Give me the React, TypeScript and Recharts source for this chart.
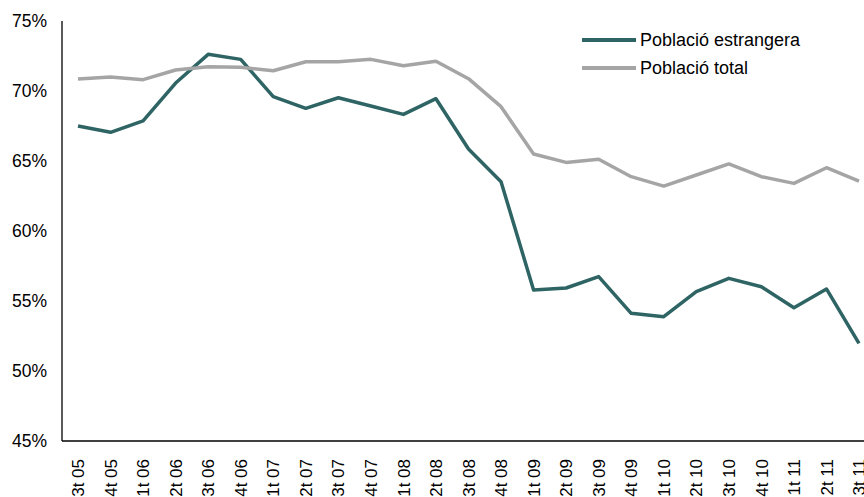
import { CartesianGrid, Legend, Line, LineChart, XAxis, YAxis } from "recharts";

const quarters = [
  "3t 05", "4t 05", "1t 06", "2t 06", "3t 06", "4t 06", "1t 07", "2t 07", "3t 07", "4t 07",
  "1t 08", "2t 08", "3t 08", "4t 08", "1t 09", "2t 09", "3t 09", "4t 09", "1t 10", "2t 10",
  "3t 10", "4t 10", "1t 11", "2t 11", "3t 11",
];
const foreignPop = [
  67.5, 67.05, 67.86, 70.57, 72.62, 72.26, 69.6, 68.76, 69.52, 68.93,
  68.33, 69.45, 65.86, 63.52, 55.79, 55.93, 56.74, 54.12, 53.88, 55.67,
  56.62, 56.02, 54.52, 55.86, 51.98,
];
const totalPop = [
  70.86, 71.0, 70.81, 71.5, 71.74, 71.69, 71.45, 72.09, 72.09, 72.26,
  71.81, 72.12, 70.88, 68.88, 65.5, 64.9, 65.12, 63.88, 63.21, 64.0,
  64.79, 63.88, 63.4, 64.52, 63.57,
];
const yTicks = [45, 50, 55, 60, 65, 70, 75];

const TEAL = "#2F6464";
const GREY = "#A5A5A5";
const FONT = "'Liberation Sans', Arial, sans-serif";

const data = quarters.map((q, i) => ({ q, foreign: foreignPop[i], total: totalPop[i] }));

function QuarterTick({ x, y, payload }: any) {
  return (
    <text x={0} y={0} dy="0.36em" textAnchor="end" transform={`translate(${x},${y + 10}) rotate(-90)`}
      fill="#000" fontSize={17} fontFamily={FONT}>
      {payload.value}
    </text>
  );
}

function LegendBox({ payload }: any) {
  return (
    <div style={{ fontFamily: FONT, fontSize: 18, color: "#000" }}>
      {(payload || []).map((p: any) => (
        <div key={p.value} style={{ display: "flex", alignItems: "center", height: 28 }}>
          <span style={{ display: "inline-block", width: 54, height: 3.5, background: p.color, marginRight: 4 }} />
          <span>{p.value}</span>
        </div>
      ))}
    </div>
  );
}

export default function App() {
  return (
    <div style={{ position: "fixed", left: 0, top: 0, width: 864, height: 497, overflow: "hidden", background: "#fff" }}>
      <LineChart width={876} height={497} data={data} margin={{ top: 21, right: 1, left: 0, bottom: 0 }}>
        <CartesianGrid stroke="none" />
        <XAxis dataKey="q" interval={0} tickLine={false} axisLine={{ stroke: "#000", strokeWidth: 1.3 }}
          height={56} padding={{ left: 16, right: 16 }} tick={<QuarterTick />} />
        <YAxis domain={[45, 75]} ticks={yTicks} interval={0} width={62} tickLine={false}
          axisLine={{ stroke: "#000", strokeWidth: 1.3 }} tickMargin={9}
          tickFormatter={(v: number) => `${v}%`} tick={{ fill: "#000", fontSize: 17.5, fontFamily: FONT }} />
        <Legend layout="vertical" verticalAlign="middle" align="center" content={<LegendBox />}
          wrapperStyle={{ left: 582, top: 26, width: 260 }} />
        <Line dataKey="foreign" name="Població estrangera" stroke={TEAL} strokeWidth={3.5} dot={false}
          isAnimationActive={false} strokeLinejoin="round" />
        <Line dataKey="total" name="Població total" stroke={GREY} strokeWidth={3.5} dot={false}
          isAnimationActive={false} strokeLinejoin="round" />
      </LineChart>
    </div>
  );
}
